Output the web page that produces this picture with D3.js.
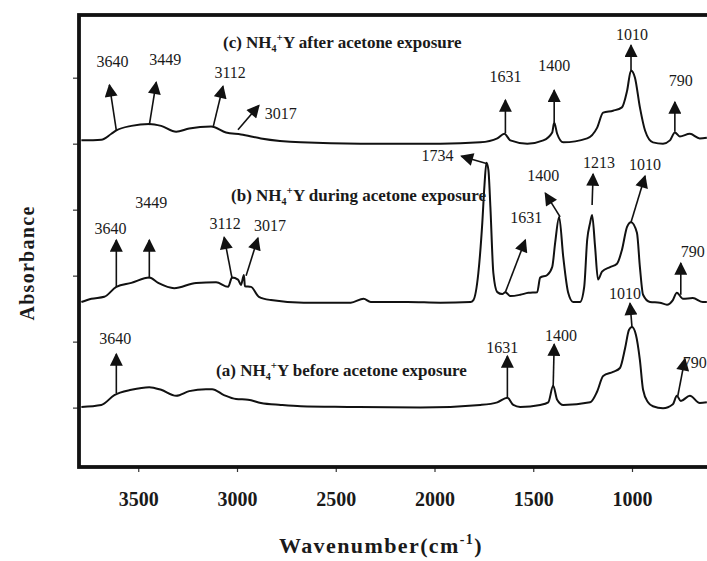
<!DOCTYPE html>
<html><head><meta charset="utf-8">
<script src="https://cdn.jsdelivr.net/npm/d3@7/dist/d3.min.js"></script>
<style>
body{margin:0;background:#fff}
text{font-family:"Liberation Serif","Times New Roman",serif;fill:#1a1a1a}
</style>
</head><body>
<svg id="chart" width="707" height="561"></svg>
<script>
// ---- data ----
const xTicks = [3500, 3000, 2500, 2000, 1500, 1000];
const yTicks = [0, 1, 2, 3, 4, 5];
const seriesNames = ["a", "b", "c"];
const seriesOffsets = [0, 1.59, 4.0];

// (a) NH4+Y before acetone exposure
const wnA = [3788,3687,3621,3535,3444,3384,3308,3242,3157,3126,3066,3005,2944,2879,2778,2677,2439,2071,1768,1682,1631,1601,1566,1465,1424,1399,1379,1348,1212,1177,1146,1096,1061,1035,1015,1000,980,960,944,919,894,843,793,773,753,707,657,621];
const absA = [0.01,0.04,0.19,0.27,0.31,0.27,0.18,0.25,0.28,0.28,0.19,0.13,0.12,0.07,0.04,0.02,0.01,0.0,0.04,0.08,0.15,0.04,0.01,0.04,0.08,0.33,0.12,0.04,0.08,0.24,0.48,0.54,0.60,0.90,1.18,1.22,1.10,0.72,0.27,0.08,0.02,-0.01,0.05,0.18,0.10,0.18,0.07,0.08];

// (b) NH4+Y during acetone exposure
const wnB = [3788,3737,3672,3611,3535,3444,3399,3318,3207,3106,3045,3025,2995,2980,2965,2960,2929,2889,2828,2662,2424,2359,2323,2136,1970,1818,1803,1778,1758,1747,1737,1727,1717,1702,1682,1657,1641,1616,1566,1525,1480,1465,1429,1404,1389,1369,1348,1323,1298,1263,1242,1227,1212,1202,1187,1172,1152,1111,1076,1051,1025,1005,975,960,944,909,859,823,793,773,742,692,641,621];
const absB = [0.01,0.06,0.09,0.24,0.30,0.38,0.30,0.22,0.30,0.31,0.24,0.38,0.35,0.27,0.42,0.25,0.24,0.09,0.04,0.0,0.0,0.06,0.01,0.01,0.0,0.01,0.04,0.45,1.21,1.78,2.12,2.01,1.45,0.45,0.16,0.13,0.16,0.10,0.12,0.15,0.16,0.38,0.42,0.54,0.91,1.30,0.69,0.15,0.01,0.01,0.24,0.95,1.21,1.33,0.85,0.35,0.47,0.54,0.59,0.80,1.15,1.22,1.06,0.54,0.12,0.01,0.0,-0.03,0.04,0.15,0.06,0.07,0.01,0.01];

// (c) NH4+Y after acetone exposure
const wnC = [3788,3687,3636,3611,3535,3444,3384,3308,3242,3131,3056,2980,2879,2677,2374,1970,1768,1682,1646,1616,1530,1449,1404,1394,1379,1348,1227,1177,1146,1096,1051,1025,1005,985,960,934,894,843,808,783,758,707,657,621];
const absC = [0.05,0.06,0.15,0.20,0.27,0.30,0.27,0.18,0.23,0.26,0.17,0.14,0.08,0.02,0.0,0.0,0.02,0.08,0.15,0.05,0,0.05,0.17,0.32,0.15,0.02,0.08,0.24,0.47,0.50,0.55,0.80,1.11,1.0,0.55,0.20,0.02,0.0,0.05,0.17,0.11,0.15,0.08,0.09];

// series labels
const seriesLabelPrefix = ["(a) NH", "(b) NH", "(c) NH"];
const seriesLabelRest = ["Y before acetone exposure", "Y during acetone exposure", "Y after acetone exposure"];
const seriesLabelW = [3106, 3030, 3071];
const seriesLabelA = [0.57, 3.22, 5.54];

// peak annotations: [label, textW, textA, tailW, tailA, tipW, tipA]
const peakNotes = [
  // (c)
  ["3640",3631,5.24,3611,4.20,3646,4.89],
  ["3449",3363,5.27,3444,4.28,3409,4.93],
  ["3112",3035,5.08,3121,4.25,3071,4.87],
  ["3017",2778,4.46,2995,4.21,2889,4.58],
  ["1631",1641,5.02,1641,4.16,1641,4.66],
  ["1400",1394,5.19,1394,4.33,1394,4.81],
  ["1010",1000,5.65,1005,5.11,1005,5.49],
  ["790", 753,4.96,783,4.18,783,4.63],
  // (b)
  ["3640",3641,2.72,3611,1.83,3611,2.54],
  ["3449",3434,3.11,3444,1.96,3444,2.54],
  ["3112",3060,2.79,3025,1.96,3065,2.58],
  ["3017",2833,2.76,2954,2.00,2894,2.57],
  ["1734",1985,3.82,1737,3.70,1864,3.81],
  ["1631",1535,2.89,1641,1.75,1540,2.54],
  ["1400",1449,3.52,1364,2.89,1439,3.25],
  ["1213",1167,3.72,1202,3.07,1197,3.54],
  ["1010",934,3.68,1005,2.81,934,3.51],
  ["790", 692,2.36,753,1.71,753,2.19],
  // (a)
  ["3640",3616,1.05,3611,0.22,3611,0.81],
  ["1631",1657,0.92,1631,0.15,1631,0.78],
  ["1400",1359,1.10,1399,0.33,1394,0.96],
  ["1010",1035,1.73,1000,1.22,1010,1.58],
  ["790", 682,0.69,768,0.18,732,0.74]
];

// ---- drawing ----
const svg = d3.select("#chart");
const x = d3.scaleLinear().domain([3800, 600]).range([79, 711]);
const y = d3.scaleLinear().domain([-0.9, 5.95]).range([467, 15]);

svg.append("rect").attr("width",707).attr("height",561).attr("fill","#fff");

const defs = svg.append("defs");
defs.append("marker").attr("id","arr").attr("viewBox","0 0 10 10")
  .attr("refX",9).attr("refY",5).attr("markerWidth",15).attr("markerHeight",13)
  .attr("markerUnits","userSpaceOnUse").attr("orient","auto")
  .append("path").attr("d","M0,0 L10,5 L0,10 Z").attr("fill","#111");

// axes
const xAxis = svg.append("g").attr("transform",`translate(0,${y(-0.9)})`)
  .call(d3.axisBottom(x).tickValues(xTicks).tickSize(5).tickFormat(d3.format("d")));
xAxis.select(".domain").remove();
xAxis.selectAll(".tick line").attr("stroke","#333").attr("stroke-width",1.2);
xAxis.selectAll(".tick text").attr("y",39).attr("dy",0)
  .style("font-size","20px").style("font-weight","bold").attr("fill","#1a1a1a");

const yAxis = svg.append("g").attr("transform",`translate(${x(3800)},0)`)
  .call(d3.axisLeft(y).tickValues(yTicks).tickSize(6).tickFormat(""));
yAxis.select(".domain").remove();
yAxis.selectAll(".tick line").attr("stroke","#333").attr("stroke-width",1.2);

// frame
svg.append("rect").attr("x",x(3800)).attr("y",y(5.95))
  .attr("width",x(600)-x(3800)).attr("height",y(-0.9)-y(5.95))
  .attr("fill","none").attr("stroke","#111").attr("stroke-width",3.8);

// spectra
const wns = [wnA, wnB, wnC];
const abss = [absA, absB, absC];
const line = d3.line().curve(d3.curveMonotoneX);
seriesNames.forEach((n,i)=>{
  const pts = wns[i].map((w,j)=>[x(w), y(abss[i][j] + seriesOffsets[i])]);
  svg.append("path").attr("d", line(pts)).attr("fill","none")
    .attr("stroke","#111").attr("stroke-width",2).attr("stroke-linejoin","round");
});

// series labels
seriesNames.forEach((n,i)=>{
  const t = svg.append("text").attr("x", x(seriesLabelW[i])).attr("y", y(seriesLabelA[i]))
    .attr("dy","0.35em").style("font-size","17px").style("font-weight","bold");
  t.append("tspan").text(seriesLabelPrefix[i]);
  t.append("tspan").attr("dy",4).style("font-size","10px").text("4");
  t.append("tspan").attr("dy",-11).style("font-size","11px").text("+");
  t.append("tspan").attr("dy",7).text(seriesLabelRest[i]);
});

// peak annotations
peakNotes.forEach(p=>{
  svg.append("line").attr("x1",x(p[3])).attr("y1",y(p[4]))
    .attr("x2",x(p[5])).attr("y2",y(p[6]))
    .attr("stroke","#111").attr("stroke-width",1.6).attr("marker-end","url(#arr)");
  svg.append("text").attr("x",x(p[1])).attr("y",y(p[2])).attr("dy","0.35em")
    .attr("text-anchor","middle").attr("fill","#2a2a2a")
    .style("font-size","16px").text(p[0]);
});

// axis titles
svg.append("text").attr("transform","translate(27,263) rotate(-90)")
  .attr("text-anchor","middle").attr("dy","0.35em")
  .style("font-size","20px").style("font-weight","bold").style("letter-spacing","1.3px")
  .text("Absorbance");

const xt = svg.append("text").attr("x",381).attr("y",553).attr("text-anchor","middle")
  .style("font-size","22px").style("font-weight","bold").style("letter-spacing","1.4px");
xt.append("tspan").text("Wavenumber(cm");
xt.append("tspan").attr("dy",-9).style("font-size","14px").text("-1");
xt.append("tspan").attr("dy",9).text(")");
</script>
</body></html>
